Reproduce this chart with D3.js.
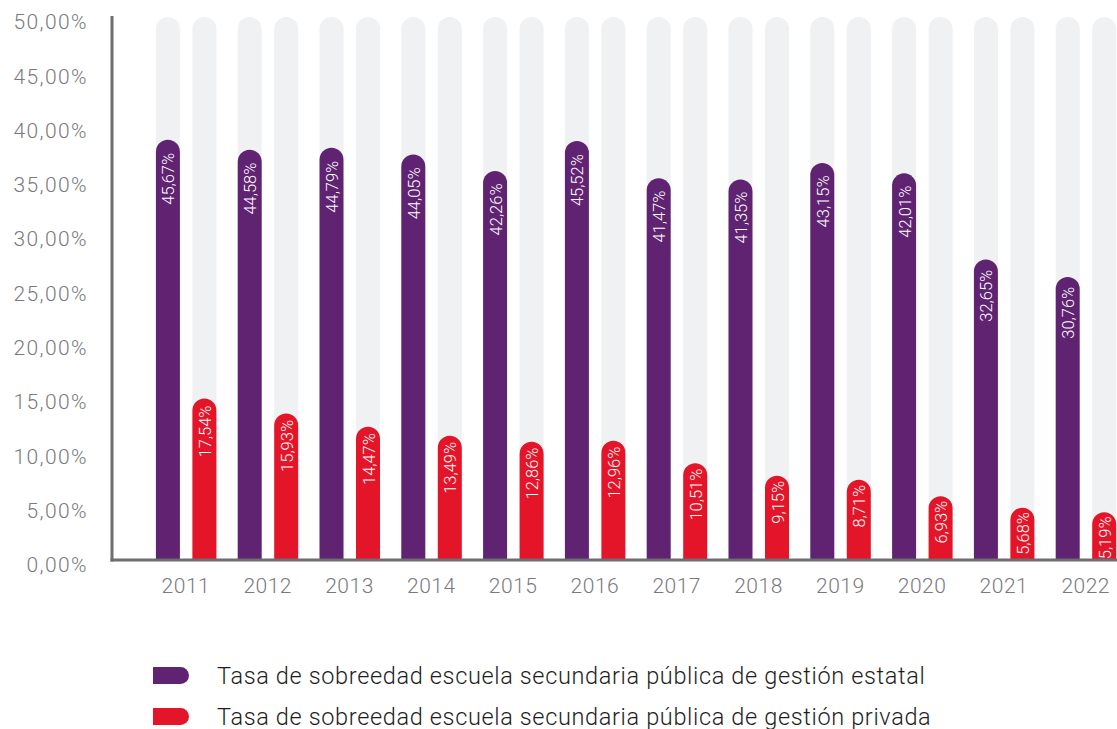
<!DOCTYPE html>
<html>
<head>
<meta charset="utf-8">
<script src="https://cdn.jsdelivr.net/npm/d3@7"></script>
<style>
  html, body { margin: 0; padding: 0; background: #fff; }
  svg { display: block; font-family: Roboto, "Noto Sans", sans-serif; }
</style>
</head>
<body>
<svg id="chart" width="1117" height="729"></svg>
<script>
const years = ["2011","2012","2013","2014","2015","2016","2017","2018","2019","2020","2021","2022"];
const estatal = [45.67,44.58,44.79,44.05,42.26,45.52,41.47,41.35,43.15,42.01,32.65,30.76];
const privada = [17.54,15.93,14.47,13.49,12.86,12.96,10.51,9.15,8.71,6.93,5.68,5.19];
const yTicks = [0,5,10,15,20,25,30,35,40,45,50];
const seriesKeys = ["estatal","privada"];
const seriesNames = [
  "Tasa de sobreedad escuela secundaria pública de gestión estatal",
  "Tasa de sobreedad escuela secundaria pública de gestión privada"
];
const trackMax = 59;

const colors = { estatal: "#5f2372", privada: "#e41429" };
const trackColor = "#f0f1f3";
const axisColor = "#6e6d72";
const labelColor = "#7a7a7e";

const svg = d3.select("#chart");
const baseY = 560, topY = 17;

const x0 = d3.scaleBand().domain(years).range([145, 1126.6]).paddingInner(0).paddingOuter(0);
const x1 = d3.scaleBand().domain(seriesKeys).range([-30, 30.5]).paddingInner(0.3425).paddingOuter(0);
const yBar = d3.scaleLinear().domain([0, trackMax]).range([baseY, topY]);
const yAxisScale = d3.scaleLinear().domain([0, 50]).range([565, 22]);

const fmt = v => d3.format(".2f")(v).replace(".", ",") + "%";

function roundTop(x, w, yTop, yBase) {
  const r = w / 2;
  return `M${x},${yBase}L${x},${yTop + r}A${r},${r} 0 0 1 ${x + w},${yTop + r}L${x + w},${yBase}Z`;
}

const rows = years.map((y, i) => ({ year: y, estatal: estatal[i], privada: privada[i] }));

const groups = svg.append("g").selectAll("g").data(rows).join("g")
  .attr("transform", d => `translate(${x0(d.year) + x0.bandwidth() / 2},0)`);

const bw = x1.bandwidth();

// tracks
groups.selectAll("path.track").data(seriesKeys).join("path")
  .attr("class", "track")
  .attr("fill", trackColor)
  .attr("d", k => roundTop(x1(k), bw, yBar(trackMax), baseY));

// bars
groups.selectAll("path.bar").data(d => seriesKeys.map(k => ({ key: k, value: d[k] }))).join("path")
  .attr("class", "bar")
  .attr("fill", d => colors[d.key])
  .attr("d", d => roundTop(x1(d.key), bw, yBar(d.value), baseY));

// value labels
groups.selectAll("text.val").data(d => seriesKeys.map(k => ({ key: k, value: d[k] }))).join("text")
  .attr("class", "val")
  .attr("fill", "#fff")
  .attr("font-size", 16.5)
  .attr("font-weight", 300)
  .attr("text-anchor", "end")
  .attr("dominant-baseline", "central")
  .attr("transform", d => {
    const h = baseY - yBar(d.value);
    const yEnd = yBar(d.value) + 3 + 0.024 * h;
    return `translate(${x1(d.key) + bw / 2 + 1},${yEnd}) rotate(-90)`;
  })
  .text(d => fmt(d.value));

// axes lines
svg.append("line").attr("x1", 112).attr("x2", 112).attr("y1", 16).attr("y2", 561.5)
  .attr("stroke", axisColor).attr("stroke-width", 3);
svg.append("line").attr("x1", 110.5).attr("x2", 1117).attr("y1", 560).attr("y2", 560)
  .attr("stroke", axisColor).attr("stroke-width", 3);

// y axis labels
const yAxis = d3.axisLeft(yAxisScale).tickValues(yTicks).tickSize(0).tickPadding(0)
  .tickFormat(v => fmt(v));
const gy = svg.append("g").attr("transform", "translate(88,0)").call(yAxis);
gy.select(".domain").remove();
gy.selectAll("text").attr("fill", labelColor).attr("font-size", 21)
  .attr("font-family", "Roboto, sans-serif").attr("font-weight", 300)
  .attr("letter-spacing", 1.4);

// x axis labels
const xAxis = d3.axisBottom(x0).tickSize(0).tickPadding(0);
const gx = svg.append("g").attr("transform", "translate(0,578)").call(xAxis);
gx.select(".domain").remove();
gx.selectAll("text").attr("fill", labelColor).attr("font-size", 21)
  .attr("font-family", "Roboto, sans-serif").attr("font-weight", 300)
  .attr("letter-spacing", 0.5);

// legend
const legend = svg.append("g").selectAll("g").data(seriesKeys).join("g")
  .attr("transform", (k, i) => `translate(153,${667 + i * 41})`);
legend.append("path")
  .attr("fill", k => colors[k])
  .attr("d", "M0,0L27.5,0A8.5,8.5 0 0 1 27.5,17L0,17Z");
legend.append("text")
  .attr("x", 64).attr("y", 16.5)
  .attr("font-size", 23.5)
  .attr("fill", "#1e1e1e")
  .attr("font-weight", 300)
  .attr("letter-spacing", 0.65)
  .text((k, i) => seriesNames[i]);
</script>
</body>
</html>
